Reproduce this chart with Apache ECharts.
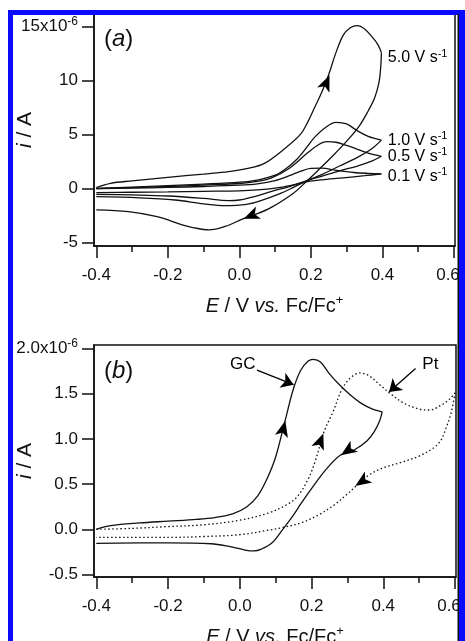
<!DOCTYPE html>
<html>
<head>
<meta charset="utf-8">
<script src="https://cdn.jsdelivr.net/npm/echarts@6/dist/echarts.min.js"></script>
<style>
  html, body { margin: 0; padding: 0; background: #fff; }
  #chart { width: 465px; height: 641px; }
</style>
</head>
<body>
<div id="chart"></div>
<script>
// panel (a): [E / V vs Fc/Fc+, i / 1e-6 A], forward and reverse sweeps
const a50Fwd = [[-0.40, 0.10], [-0.36, 0.50], [-0.30, 0.72], [-0.20, 1.05], [-0.10, 1.35], [-0.03, 1.57], [0.02, 1.85], [0.07, 2.35], [0.13, 3.80], [0.17, 5.00], [0.19, 6.10], [0.21, 7.50], [0.23, 8.90], [0.25, 10.6], [0.27, 12.6], [0.29, 14.2], [0.31, 14.9], [0.33, 15.1], [0.35, 14.8], [0.37, 14.1], [0.388, 13.3], [0.397, 12.6]];
const a50Rev = [[0.397, 12.6], [0.395, 11.2], [0.39, 9.8], [0.378, 8.4], [0.36, 7.2], [0.335, 5.8], [0.30, 4.4], [0.26, 3.0], [0.22, 1.7], [0.19, 0.75], [0.15, -0.45], [0.08, -1.9], [0.01, -2.8], [-0.04, -3.5], [-0.085, -3.82], [-0.13, -3.6], [-0.16, -3.35], [-0.23, -2.6], [-0.31, -2.13], [-0.40, -1.97]];
const a10Fwd = [[-0.40, 0.02], [-0.30, 0.15], [-0.20, 0.28], [-0.10, 0.42], [0.0, 0.6], [0.05, 0.8], [0.10, 1.25], [0.13, 1.85], [0.16, 2.7], [0.19, 3.9], [0.21, 4.75], [0.24, 5.65], [0.27, 6.15], [0.30, 6.0], [0.33, 5.35], [0.36, 4.85], [0.397, 4.5]];
const a10Rev = [[0.397, 4.5], [0.37, 3.7], [0.33, 2.9], [0.28, 2.1], [0.23, 1.3], [0.19, 0.75], [0.15, 0.1], [0.11, -0.5], [0.06, -1.1], [0.02, -1.45], [-0.04, -1.57], [-0.10, -1.4], [-0.18, -1.05], [-0.28, -0.85], [-0.40, -0.74]];
const a05Fwd = [[-0.40, 0.0], [-0.30, 0.1], [-0.20, 0.2], [-0.10, 0.33], [0.0, 0.48], [0.05, 0.68], [0.09, 1.0], [0.14, 1.9], [0.19, 3.3], [0.22, 4.05], [0.245, 4.35], [0.27, 4.3], [0.30, 4.0], [0.33, 3.65], [0.36, 3.3], [0.397, 3.0]];
const a05Rev = [[0.397, 3.0], [0.37, 2.55], [0.33, 2.1], [0.28, 1.65], [0.23, 1.15], [0.19, 0.75], [0.14, 0.2], [0.09, -0.25], [0.04, -0.75], [0.0, -1.05], [-0.03, -1.1], [-0.10, -0.9], [-0.20, -0.68], [-0.30, -0.58], [-0.40, -0.52]];
const a01Fwd = [[-0.40, 0.0], [-0.30, 0.05], [-0.20, 0.12], [-0.10, 0.2], [0.0, 0.32], [0.05, 0.45], [0.10, 0.75], [0.14, 1.2], [0.17, 1.6], [0.20, 1.88], [0.23, 1.9], [0.27, 1.7], [0.32, 1.5], [0.36, 1.42], [0.397, 1.38]];
const a01Rev = [[0.397, 1.38], [0.35, 1.2], [0.29, 1.0], [0.23, 0.82], [0.19, 0.65], [0.15, 0.35], [0.10, 0.05], [0.05, -0.12], [0.0, -0.2], [-0.10, -0.25], [-0.20, -0.3], [-0.30, -0.33], [-0.40, -0.37]];

// panel (b): GC (solid) and Pt (dotted) electrodes
const gcFwd = [[-0.40, 0.0], [-0.36, 0.04], [-0.28, 0.07], [-0.20, 0.09], [-0.12, 0.11], [-0.07, 0.13], [-0.02, 0.17], [0.02, 0.25], [0.05, 0.37], [0.075, 0.55], [0.10, 0.8], [0.125, 1.18], [0.15, 1.56], [0.17, 1.76], [0.19, 1.86], [0.205, 1.88], [0.225, 1.85], [0.25, 1.72], [0.28, 1.59], [0.31, 1.48], [0.34, 1.39], [0.37, 1.33], [0.397, 1.30]];
const gcRev = [[0.397, 1.30], [0.39, 1.2], [0.375, 1.08], [0.355, 0.98], [0.32, 0.88], [0.28, 0.82], [0.24, 0.66], [0.20, 0.45], [0.17, 0.28], [0.15, 0.16], [0.12, 0.0], [0.09, -0.15], [0.06, -0.22], [0.04, -0.24], [0.015, -0.23], [-0.03, -0.19], [-0.08, -0.16], [-0.20, -0.15], [-0.40, -0.155]];
const ptFwd = [[-0.40, 0.0], [-0.30, 0.01], [-0.20, 0.03], [-0.10, 0.05], [0.0, 0.1], [0.08, 0.18], [0.13, 0.27], [0.16, 0.36], [0.19, 0.55], [0.21, 0.75], [0.235, 1.08], [0.26, 1.3], [0.285, 1.55], [0.31, 1.68], [0.335, 1.73], [0.36, 1.7], [0.39, 1.6], [0.42, 1.5], [0.46, 1.39], [0.50, 1.33], [0.53, 1.32], [0.56, 1.37], [0.585, 1.44], [0.60, 1.51]];
const ptRev = [[0.60, 1.51], [0.59, 1.3], [0.575, 1.12], [0.56, 0.98], [0.54, 0.9], [0.50, 0.81], [0.45, 0.74], [0.40, 0.68], [0.36, 0.6], [0.33, 0.5], [0.30, 0.39], [0.26, 0.26], [0.22, 0.16], [0.17, 0.07], [0.12, 0.02], [0.08, -0.01], [0.0, -0.06], [-0.10, -0.08], [-0.20, -0.09], [-0.40, -0.09]];

// sweep direction arrowheads: [E, i, screen angle in degrees]
const arrowsA = [[0.252, 10.5, 67], [0.012, -2.78, 202]];
const arrowsB = [[0.127, 1.2, 76], [0.282, 0.82, 214], [0.233, 1.06, 69], [0.322, 0.48, 214]];

// annotation texts
const rateNames = ['5.0', '1.0', '0.5', '0.1'];
const rateLabelPos = [[0.415, 12.1], [0.415, 4.5], [0.415, 2.94], [0.415, 1.11]];
const electrodeNames = ['GC', 'Pt'];
const electrodeLabelPos = [[0.044, 1.82], [0.509, 1.82]];
const electrodePointers = [[[0.048, 1.76], [0.15, 1.60]], [[0.49, 1.78], [0.416, 1.52]]];

// ticks
const xMajor = [-0.4, -0.2, 0.0, 0.2, 0.4, 0.6];
const xMinor = [-0.3, -0.1, 0.1, 0.3, 0.5];
const yTicksA = [-5, 0, 5, 10, 15];
const yTicksB = [-0.5, 0.0, 0.5, 1.0, 1.5, 2.0];

const FONT = '"Liberation Sans", Arial, sans-serif';
const INK = '#111';

const chart = echarts.init(document.getElementById('chart'));

function xAxes(gi) {
  return [{
    gridIndex: gi, type: 'value', position: 'bottom', min: -0.4064, max: 0.6028,
    axisLine: { show: true, onZero: false, lineStyle: { color: INK, width: 1.5 } },
    axisTick: { show: true, inside: false, length: 12, customValues: xMajor, lineStyle: { color: INK, width: 1.5 } },
    axisLabel: {
      customValues: xMajor, margin: 21, fontSize: 17, fontFamily: FONT, color: INK,
      // the last label sits against the page edge and is nudged left
      formatter: v => (v > 0.5 ? '{e|' + v.toFixed(1) + '}' : v.toFixed(1)),
      rich: { e: { fontSize: 17, fontFamily: FONT, color: INK, padding: [0, 12, 0, 0] } }
    },
    splitLine: { show: false },
    name: '{it|E} / V {it|vs.} Fc/Fc{sup|+}', nameLocation: 'middle', nameGap: 48, nameMoveOverlap: false,
    nameTextStyle: {
      fontSize: 20, fontFamily: FONT, color: INK, lineHeight: 24,
      rich: {
        it: { fontSize: 20, fontFamily: FONT, fontStyle: 'italic', color: INK, lineHeight: 24 },
        sup: { fontSize: 13, fontFamily: FONT, color: INK, verticalAlign: 'top', lineHeight: 11 }
      }
    }
  }, {
    gridIndex: gi, type: 'value', position: 'bottom', min: -0.4064, max: 0.6028,
    axisLine: { show: false, onZero: false },
    axisTick: { show: true, inside: false, length: 6, customValues: xMinor, lineStyle: { color: INK, width: 1.5 } },
    axisLabel: { show: false },
    splitLine: { show: false }
  }];
}

function yAxis(gi, min, max, ticks, topText) {
  const top = ticks[ticks.length - 1];
  return {
    gridIndex: gi, type: 'value', position: 'left', min: min, max: max,
    axisLine: { show: true, onZero: false, lineStyle: { color: INK, width: 1.5 } },
    axisTick: { show: true, inside: false, length: 12, customValues: ticks, lineStyle: { color: INK, width: 1.5 } },
    axisLabel: {
      customValues: ticks, margin: 16, fontSize: 17, fontFamily: FONT, color: INK, lineHeight: 22,
      formatter: v => (v === top ? '{m|' + topText + '}{s|-6}' : (gi === 0 ? String(v) : v.toFixed(1))),
      rich: {
        m: { fontSize: 17, fontFamily: FONT, color: INK, lineHeight: 22 },
        s: { fontSize: 12, fontFamily: FONT, color: INK, verticalAlign: 'top', lineHeight: 11 }
      }
    },
    splitLine: { show: false },
    name: '{it|i} / A', nameLocation: 'middle', nameGap: 58, nameMoveOverlap: false,
    nameTextStyle: {
      fontSize: 21, fontFamily: FONT, color: INK,
      rich: { it: { fontSize: 21, fontFamily: FONT, fontStyle: 'italic', color: INK } }
    }
  };
}

function curve(data, xi, yi, dotted) {
  return {
    type: 'line', data: data, xAxisIndex: xi, yAxisIndex: yi,
    showSymbol: false, smooth: 0.35, silent: true, z: 3,
    lineStyle: { color: INK, width: 1.3, type: dotted ? [1.5, 2.5] : 'solid' }
  };
}

function arrowHeads(list, xi, yi) {
  return {
    type: 'scatter', xAxisIndex: xi, yAxisIndex: yi, silent: true, z: 5,
    symbol: 'arrow', symbolSize: [10, 16],
    data: list.map(a => ({ value: [a[0], a[1]], symbolRotate: a[2] - 90 })),
    itemStyle: { color: '#000', opacity: 1 }
  };
}

const labelBase = { show: true, distance: 0, color: '#000', opacity: 1, textBorderWidth: 0, fontFamily: FONT };
const supRich = {
  t: { fontSize: 16, fontFamily: FONT, color: '#000', lineHeight: 20 },
  sup: { fontSize: 11, fontFamily: FONT, color: '#000', verticalAlign: 'top', lineHeight: 10 }
};

const series = [
  curve(a50Fwd, 0, 0), curve(a50Rev, 0, 0),
  curve(a10Fwd, 0, 0), curve(a10Rev, 0, 0),
  curve(a05Fwd, 0, 0), curve(a05Rev, 0, 0),
  curve(a01Fwd, 0, 0), curve(a01Rev, 0, 0),
  arrowHeads(arrowsA, 0, 0),
  {
    type: 'scatter', xAxisIndex: 0, yAxisIndex: 0, silent: true, symbolSize: 0, z: 6,
    itemStyle: { opacity: 1 },
    data: rateLabelPos.map((p, k) => ({ value: p, name: rateNames[k] })),
    label: Object.assign({}, labelBase, { position: 'right', formatter: p => '{t|' + p.name + ' V s}{sup|-1}', rich: supRich })
  },
  curve(gcFwd, 2, 1), curve(gcRev, 2, 1),
  curve(ptFwd, 2, 1, true), curve(ptRev, 2, 1, true),
  arrowHeads(arrowsB, 2, 1),
  {
    type: 'scatter', xAxisIndex: 2, yAxisIndex: 1, silent: true, symbolSize: 0, z: 6,
    itemStyle: { opacity: 1 },
    data: electrodeLabelPos.map((p, k) => ({
      value: p, name: electrodeNames[k],
      label: { position: k === 0 ? 'left' : 'right' }
    })),
    label: Object.assign({}, labelBase, { formatter: p => p.name, fontSize: 17 })
  },
  {
    type: 'lines', coordinateSystem: 'cartesian2d', xAxisIndex: 2, yAxisIndex: 1, silent: true, z: 5,
    symbol: ['none', 'arrow'], symbolSize: [0, 12],
    lineStyle: { color: '#000', width: 1.3, opacity: 1 },
    data: electrodePointers.map(c => ({ coords: c }))
  }
];

const blue = '#0a0aff';
const panelText = { fontSize: 24, fontFamily: FONT, fill: INK };
chart.setOption({
  animation: false,
  backgroundColor: '#fff',
  grid: [
    { left: 94, right: 10, top: 14, height: 232, show: true, borderColor: INK, borderWidth: 1.5, outerBoundsMode: 'none' },
    { left: 94, right: 9, top: 345, height: 232, show: true, borderColor: INK, borderWidth: 1.5, outerBoundsMode: 'none' }
  ],
  xAxis: xAxes(0).concat(xAxes(1)),
  yAxis: [yAxis(0, -5.31, 16.18, yTicksA, '15x10'), yAxis(1, -0.528, 2.039, yTicksB, '2.0x10')],
  series: series,
  graphic: [
    { type: 'text', left: 104, top: 27, z: 10, style: Object.assign({ text: '({a|a})', rich: { a: Object.assign({ fontStyle: 'italic' }, panelText) } }, panelText) },
    { type: 'text', left: 104, top: 359, z: 10, style: Object.assign({ text: '({a|b})', rich: { a: Object.assign({ fontStyle: 'italic' }, panelText) } }, panelText) },
    { type: 'rect', z: 100, shape: { x: 8, y: 10, width: 5, height: 640 }, style: { fill: blue } },
    { type: 'rect', z: 100, shape: { x: 8, y: 10, width: 457, height: 5 }, style: { fill: blue } },
    { type: 'rect', z: 100, shape: { x: 459, y: 10, width: 6, height: 640 }, style: { fill: blue } },
    { type: 'rect', z: 100, shape: { x: 457.5, y: 14, width: 1.5, height: 630 }, style: { fill: INK } }
  ]
});
</script>
</body>
</html>
